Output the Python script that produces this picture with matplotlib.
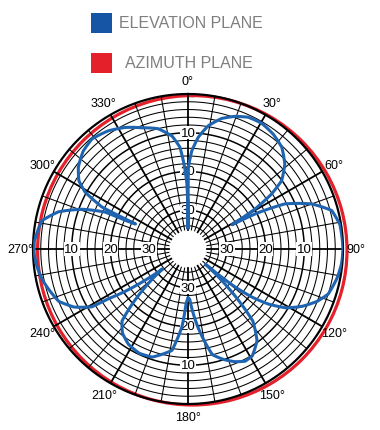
import numpy as np
import matplotlib
matplotlib.use('Agg')
import matplotlib.pyplot as plt
from matplotlib.patches import Rectangle

plt.rcParams['font.family'] = ['Liberation Sans', 'DejaVu Sans']

# elevation plane pattern (angle clockwise from 0, attenuation in dB)
elev_angle_deg = [0, 0.2, 2.2, 5.3, 9.3, 14.5, 19.5, 24.6, 30.4, 36.6, 42.7, 48.8, 53.9,
                  56.7, 59.2, 60.6, 61.2, 62.5, 65, 70, 75, 80.8, 90, 95.6, 101, 107.8,
                  112, 116.6, 121, 124.5, 127, 129, 131,
                  133, 136, 138, 143, 149, 153, 157.4, 162, 167, 173, 178, 180,
                  182, 184.4, 189, 198.4, 205, 212, 218, 222.5, 225.5, 228.5, 232,
                  234, 236, 238, 239, 243, 248, 257.5, 263, 268, 273, 281, 286, 290.7,
                  294, 294.7, 295.5,
                  295.7, 296, 299, 302, 306.7, 313, 318.9, 325.9, 332.7, 339, 346,
                  352, 355.5, 357.3, 359, 359.7, 360]
elev_atten_db = [34.5, 19, 14.7, 11, 7.8, 5.2, 3.7, 2.6, 2.4, 3.1, 4.3, 6.8, 10.1,
                 14.3, 20, 25.3, 27, 20, 12.5, 6, 1.6, 0.3, 0, 0.2, 0.8, 2,
                 4, 7, 10.5, 15, 19.5, 24.7, 34,
                 28, 20, 15, 10.4, 7.8, 7.5, 8.5, 10, 12, 20, 27, 27.5,
                 26, 20, 13.5, 10.6, 10.3, 11, 12.5, 14.8, 20, 25.5, 31.7,
                 26, 20.5, 15.8, 11, 7, 4, 1.7, 0.8, 0.3, 0.3, 1.6, 5.2, 11,
                 16.6, 22.8, 25,
                 20, 15.3, 9.6, 6.8, 4.7, 3, 2.3, 3.2, 4.7, 6.5, 8,
                 10.6, 13.7, 18, 23, 28, 34.5]

# azimuth plane: omnidirectional
az_angle_deg = [0, 30, 60, 90, 120, 150, 180, 210, 240, 270, 300, 330, 360]
az_atten_db = [0, 0, 0, 0, 0, 0, 0, 0, 0, 0, 0, 0, 0]

angle_labels = ['0°', '30°', '60°', '90°', '120°', '150°', '180°', '210°',
                '240°', '270°', '300°', '330°']
radial_labels = [10, 20, 30]

R_MAX = 40  # attenuation at the centre
HOLE = 35   # attenuation at the edge of the white hole

BLUE = '#1f64b0'
RED = '#e4202a'

W, H = 380, 431
fig = plt.figure(figsize=(W / 100, H / 100), dpi=100)


def polar_axes(cx, cy, rad):
    a = fig.add_axes([(cx - rad) / W, (H - cy - rad) / H, 2 * rad / W, 2 * rad / H],
                     projection='polar')
    a.set_theta_zero_location('N')
    a.set_theta_direction(-1)
    a.set_ylim(0, R_MAX)
    a.axis('off')
    return a


def smooth(line, steps=40):
    # let the polar transform draw each segment as a curve instead of a chord
    line.get_path()._interpolation_steps = steps


# azimuth plane axes (drawn slightly offset, as in the original)
ax_az = polar_axes(192.3, 251.3, 154.7)
ax = polar_axes(188, 250, 155)

ln_az, = ax_az.plot(np.radians(az_angle_deg), R_MAX - np.array(az_atten_db), color=RED,
                    lw=2.3, clip_on=False, zorder=3)
smooth(ln_az)

# grid circles every 2 dB
th = np.linspace(0, 2 * np.pi, 721)
for db in range(0, HOLE, 2):
    lw = 1.6 if db == 0 else (1.1 if db % 10 == 0 else 0.75)
    ax.plot(th, np.full_like(th, R_MAX - db), color='black', lw=lw, zorder=1, clip_on=False)

# spokes every 10 degrees
for deg in range(0, 360, 10):
    lw = 1.3 if deg % 30 == 0 else 0.75
    ax.plot([np.radians(deg)] * 2, [R_MAX - HOLE, R_MAX], color='black', lw=lw, zorder=1)

# radial labels on the four main axes
for deg in [0, 90, 180, 270]:
    for db in radial_labels:
        ax.text(np.radians(deg), R_MAX - db, str(db), ha='center', va='center', fontsize=9.5,
                bbox=dict(fc='white', ec='none', pad=0.4), zorder=4)

# angle labels around the outside
for i, lab in enumerate(angle_labels):
    ax.text(np.radians(i * 30), 43.4, lab, ha='center', va='center', fontsize=9,
            clip_on=False)

ln_el, = ax.plot(np.radians(elev_angle_deg), R_MAX - np.array(elev_atten_db), color=BLUE,
                 lw=2.2, zorder=5, solid_joinstyle='round')
smooth(ln_el)

# legend
fig.patches.append(Rectangle((91 / W, 1 - 34 / H), 21 / W, 20 / H, transform=fig.transFigure,
                             fc='#1654a5', ec='none'))
fig.patches.append(Rectangle((91 / W, 1 - 74 / H), 21 / W, 20 / H, transform=fig.transFigure,
                             fc=RED, ec='none'))
fig.text(119 / W, 1 - 24 / H, 'ELEVATION PLANE', ha='left', va='center', fontsize=11.5,
         color='#7f7f7f')
fig.text(125 / W, 1 - 64 / H, 'AZIMUTH PLANE', ha='left', va='center', fontsize=11.5,
         color='#7f7f7f')

fig.savefig('out.png', dpi=100)
